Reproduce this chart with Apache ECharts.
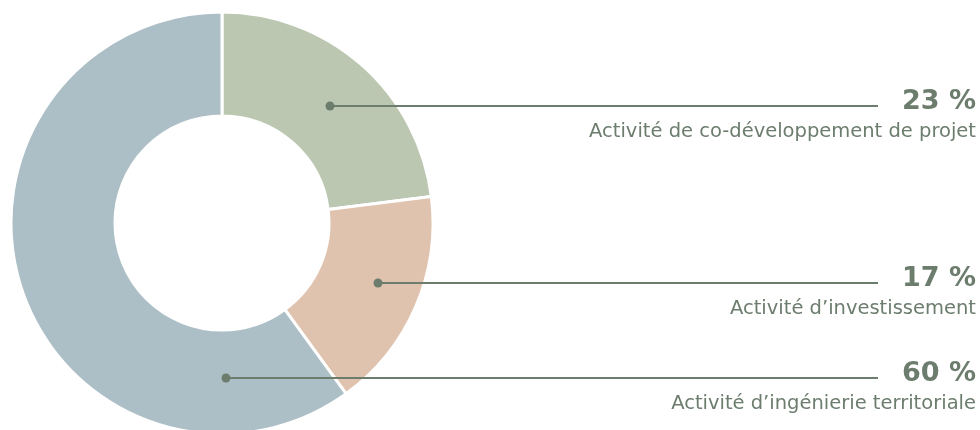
<!DOCTYPE html>
<html>
<head>
<meta charset="utf-8">
<script src="https://cdn.jsdelivr.net/npm/echarts@6/dist/echarts.min.js"></script>
<style>
  html, body { margin: 0; padding: 0; background: #fff; }
  #main { width: 980px; height: 430px; }
</style>
</head>
<body>
<div id="main"></div>
<script>
var chartDom = document.getElementById('main');
var myChart = echarts.init(chartDom);
var option;

// data
var names = [
    'Activité de co-développement de projet',
    'Activité d\u2019investissement',
    'Activité d\u2019ingénierie territoriale'
];
var values = [23, 17, 60];
var colors = ['#BCC7B2', '#E0C3AE', '#ADBFC6'];

// where the leader lines sit (annotation layout)
var lineY = [106, 283, 378];
var dotX = [330, 378, 226];
var lineEndX = 878;
var textColor = '#6C7D6E';

var pieData = names.map(function (n, i) {
    return {
        name: n,
        value: values[i],
        itemStyle: { color: colors[i] }
    };
});

var annotations = [];
dotX.forEach(function (x, i) {
    annotations.push({
        type: 'line',
        shape: { x1: x, y1: lineY[i], x2: lineEndX, y2: lineY[i] },
        style: { stroke: textColor, lineWidth: 2 },
        z: 100
    });
    annotations.push({
        type: 'circle',
        shape: { cx: x, cy: lineY[i], r: 4.5 },
        style: { fill: textColor },
        z: 101
    });
});

option = {
    backgroundColor: '#fff',
    animation: false,
    series: [{
        type: 'pie',
        center: [222, 223],
        radius: [107, 211],
        startAngle: 90,
        clockwise: true,
        avoidLabelOverlap: false,
        data: pieData,
        itemStyle: {
            borderColor: '#fff',
            borderWidth: 3
        },
        label: {
            show: true,
            position: 'outside',
            formatter: function (p) {
                return '{p|' + p.value + ' %}\n{t|' + p.name + '}';
            },
            rich: {
                p: {
                    fontFamily: 'DejaVu Sans',
                    fontWeight: 'bold',
                    fontSize: 27,
                    color: textColor,
                    lineHeight: 28,
                    align: 'right'
                },
                t: {
                    fontFamily: 'DejaVu Sans',
                    fontSize: 19.5,
                    color: textColor,
                    lineHeight: 32,
                    align: 'right'
                }
            }
        },
        labelLine: { show: false },
        labelLayout: function (params) {
            var i = params.dataIndex;
            return {
                x: 976,
                y: lineY[i] - 18,
                align: 'right',
                verticalAlign: 'top'
            };
        }
    }],
    graphic: annotations
};

option && myChart.setOption(option);
</script>
</body>
</html>
